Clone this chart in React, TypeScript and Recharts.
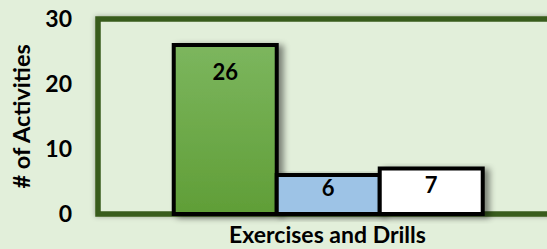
import { BarChart, Bar, XAxis, YAxis, ReferenceArea, LabelList } from "recharts";

const categories = ["Exercises and Drills"];
const greenValues = [26];
const blueValues = [6];
const whiteValues = [7];
const yTicks = [0, 10, 20, 30];

const data = categories.map((name, i) => ({
  name,
  green: greenValues[i],
  blue: blueValues[i],
  white: whiteValues[i],
}));

const FONT = "Lato, 'Open Sans', sans-serif";
const labelStyle = { fill: "#000", fontSize: 22, fontWeight: 700, fontFamily: FONT };

export default function App() {
  return (
    <div
      style={{
        position: "absolute",
        left: 0,
        top: 0,
        width: 547,
        height: 249,
        overflow: "hidden",
        background: "#e2efda",
      }}
    >
      <BarChart
        width={572}
        height={249}
        data={data}
        margin={{ top: 19, right: 15, left: 0, bottom: 0 }}
        barGap={0}
        barCategoryGap="16.5%"
      >
        <defs>
          <linearGradient id="greenFill" x1="0" y1="0" x2="0" y2="1">
            <stop offset="0%" stopColor="#7cb65e" />
            <stop offset="100%" stopColor="#609e37" />
          </linearGradient>
          <filter id="barShadow" x="-10%" y="-10%" width="130%" height="130%">
            <feDropShadow dx="5" dy="2" stdDeviation="3" floodColor="#000" floodOpacity="0.45" />
          </filter>
          <filter id="boxShadow" x="-5%" y="-10%" width="110%" height="120%">
            <feDropShadow dx="0" dy="0" stdDeviation="2.5" floodColor="#000" floodOpacity="0.3" />
          </filter>
        </defs>
        <ReferenceArea
          y1={0}
          y2={30}
          fill="#e2efda"
          fillOpacity={1}
          stroke="#385c1d"
          strokeWidth={5.5}
          style={{ filter: "url(#boxShadow)" }}
        />
        <XAxis
          dataKey="name"
          height={35}
          tickLine={false}
          axisLine={false}
          tick={{ fill: "#000", fontSize: 23, fontWeight: 700, fontFamily: FONT }}
          tickMargin={7}
        />
        <YAxis
          width={98}
          domain={[0, 30]}
          ticks={yTicks}
          tickLine={false}
          axisLine={false}
          tickMargin={20}
          tick={{ fill: "#000", fontSize: 23, fontWeight: 700, fontFamily: FONT }}
          label={{
            value: "# of Activities",
            angle: -90,
            position: "insideLeft",
            dx: 17,
            dy: 72,
            style: { fill: "#000", fontSize: 23.5, fontWeight: 700, fontFamily: FONT },
          }}
        />
        <Bar
          dataKey="green"
          fill="url(#greenFill)"
          stroke="#000"
          strokeWidth={4}
          isAnimationActive={false}
          style={{ filter: "url(#barShadow)" }}
        >
          <LabelList dataKey="green" position="insideTop" offset={19} style={labelStyle} />
        </Bar>
        <Bar
          dataKey="blue"
          fill="#9dc3e6"
          stroke="#000"
          strokeWidth={4}
          isAnimationActive={false}
          style={{ filter: "url(#barShadow)" }}
        >
          <LabelList dataKey="blue" position="insideTop" offset={5} style={labelStyle} />
        </Bar>
        <Bar
          dataKey="white"
          fill="#ffffff"
          stroke="#000"
          strokeWidth={4}
          isAnimationActive={false}
          style={{ filter: "url(#barShadow)" }}
        >
          <LabelList dataKey="white" position="insideTop" offset={9} style={labelStyle} />
        </Bar>
      </BarChart>
    </div>
  );
}
